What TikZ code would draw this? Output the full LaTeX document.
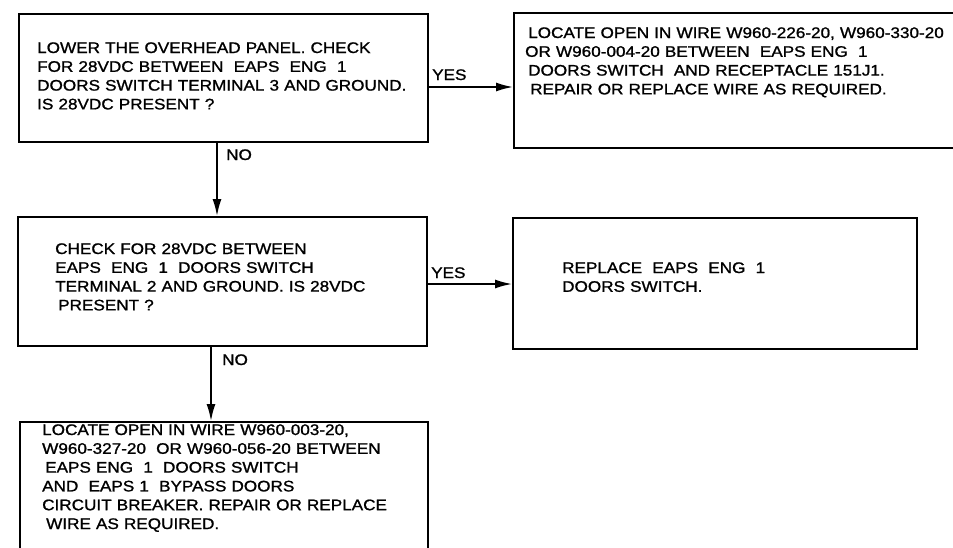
\documentclass[tikz,border=0pt]{standalone}
\usepackage{fontspec}
\setmainfont{Liberation Sans}[FakeStretch=1.12,FakeBold=1.2]
\usetikzlibrary{arrows.meta}
\tikzset{
  box/.style={draw, line width=1.7pt, rectangle, inner sep=0pt, anchor=north west},
  txt/.style={inner sep=0pt, anchor=base west, align=left, text width=440pt, font=\fontsize{15.3}{18.8}\selectfont},
  lbl/.style={inner sep=0pt, anchor=base west, font=\fontsize{15.3}{18.8}\selectfont},
  arr/.style={line width=1.7pt, -{Latex[length=17pt,width=9pt]}}
}
\begin{document}
\begin{tikzpicture}[x=1pt,y=-1pt]
\clip (0,0) rectangle (953,547);
\fill[white] (0,0) rectangle (953,547);
% boxes
\node[box, minimum width=409pt, minimum height=128pt] (b1) at (18,13) {};
\node[box, minimum width=452pt, minimum height=135pt] (b2) at (513,12) {};
\node[box, minimum width=409pt, minimum height=129pt] (b3) at (17,216) {};
\node[box, minimum width=404pt, minimum height=131pt] (b4) at (512,217) {};
\node[box, minimum width=408pt, minimum height=150pt] (b5) at (19,421) {};
% texts
\node[txt] (t1) at (37,53) {LOWER THE OVERHEAD PANEL. CHECK\\FOR 28VDC BETWEEN \ EAPS \ ENG \ 1\\DOORS SWITCH TERMINAL 3 AND GROUND.\\IS 28VDC PRESENT ?};
\node[txt] (t2) at (525,38) {\hspace*{3pt}LOCATE OPEN IN WIRE W960-226-20, W960-330-20\\OR W960-004-20 BETWEEN \ EAPS ENG \ 1\\\hspace*{3pt}DOORS SWITCH \ AND RECEPTACLE 151J1.\\\hspace*{5pt}REPAIR OR REPLACE WIRE AS REQUIRED.};
\node[txt] (t3) at (55,254) {CHECK FOR 28VDC BETWEEN\\EAPS \ ENG \ 1 \ DOORS SWITCH\\TERMINAL 2 AND GROUND. IS 28VDC\\\hspace*{3pt}PRESENT ?};
\node[txt] (t4) at (562,273) {REPLACE \ EAPS \ ENG \ 1\\DOORS SWITCH.};
\node[txt] (t5) at (42,435) {LOCATE OPEN IN WIRE W960-003-20,\\W960-327-20 \ OR W960-056-20 BETWEEN\\\hspace*{3pt}EAPS ENG \ 1 \ DOORS SWITCH\\AND \ EAPS 1 \ BYPASS DOORS\\CIRCUIT BREAKER. REPAIR OR REPLACE\\\hspace*{4pt}WIRE AS REQUIRED.};
% connector positions
\coordinate (y1) at (0,87);
\coordinate (y2) at (0,284);
\coordinate (x1) at (217,0);
\coordinate (x2) at (211,0);
% connectors
\draw[arr] (b1.east |- y1) -- (b2.west |- y1);
\draw[arr] (b3.east |- y2) -- (b4.west |- y2);
\draw[arr] (b1.south -| x1) -- (b3.north -| x1);
\draw[arr] (b3.south -| x2) -- (b5.north -| x2);
% labels
\node[lbl] (yes1) at (432,80) {YES};
\node[lbl] (no1) at (226,160) {NO};
\node[lbl] (yes2) at (431,278) {YES};
\node[lbl] (no2) at (222,365) {NO};
\end{tikzpicture}
\end{document}
